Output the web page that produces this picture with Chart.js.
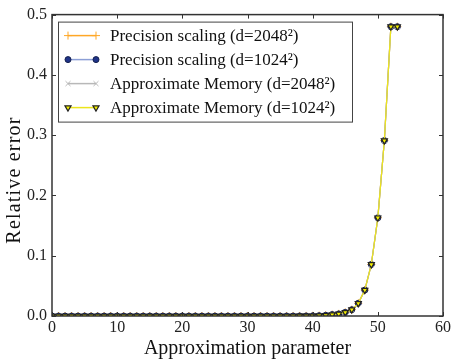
<!DOCTYPE html>
<html>
<head>
<meta charset="utf-8">
<script src="https://cdn.jsdelivr.net/npm/chart.js@4"></script>
<style>
  html, body { margin: 0; padding: 0; background: #fff; }
  #wrap { width: 453px; height: 361px; }
</style>
</head>
<body>
<div id="wrap"><canvas id="c" width="453" height="361"></canvas></div>
<script>
// approximation parameter values (x)
const params = [0,1,2,3,4,5,6,7,8,9,10,11,12,13,14,15,16,17,18,19,20,21,22,23,24,25,26,
  27,28,29,30,31,32,33,34,35,36,37,38,39,40,41,42,43,44,45,46,47,48,49,50,51,52,53];

// relative error per series
const precision2048 = [0,0,0,0,0,0,0,0,0,0,0,0,0,0,0,0,0,0,0,0,0,0,0,0,0,0,0,
  0,0,0,0,0,0,0,0,0,0.00002,0.00004,0.00008,0.00015,0.0003,0.0006,0.0012,0.0024,0.0035,0.006,0.0105,0.021,0.043,0.0855,0.163,0.291,0.48,0.48];
const precision1024 = [0,0,0,0,0,0,0,0,0,0,0,0,0,0,0,0,0,0,0,0,0,0,0,0,0,0,0,
  0,0,0,0,0,0,0,0,0,0.00002,0.00004,0.00008,0.00015,0.0003,0.0006,0.0012,0.0024,0.0035,0.006,0.0105,0.021,0.043,0.0855,0.163,0.291,0.48,0.48];
const approxMem2048 = [0,0,0,0,0,0,0,0,0,0,0,0,0,0,0,0,0,0,0,0,0,0,0,0,0,0,0,
  0,0,0,0,0,0,0,0,0,0.00002,0.00004,0.00008,0.00015,0.0003,0.0006,0.0012,0.0024,0.0035,0.006,0.0105,0.021,0.043,0.0855,0.163,0.291,0.48,0.48];
const approxMem1024 = [0,0,0,0,0,0,0,0,0,0,0,0,0,0,0,0,0,0,0,0,0,0,0,0,0,0,0,
  0,0,0,0,0,0,0,0,0,0.00002,0.00004,0.00008,0.00015,0.0003,0.0006,0.0012,0.0024,0.0035,0.006,0.0105,0.021,0.043,0.0855,0.163,0.291,0.48,0.48];

const seriesNames = ['Precision scaling (d=2048\u00B2)', 'Precision scaling (d=1024\u00B2)',
  'Approximate Memory (d=2048\u00B2)', 'Approximate Memory (d=1024\u00B2)'];
const xTicks = [0, 10, 20, 30, 40, 50, 60];
const yTicks = [0, 0.1, 0.2, 0.3, 0.4, 0.5];

const FONT = '"Liberation Serif", "DejaVu Serif", serif';
const toPts = ys => params.map((x, i) => ({ x: x, y: ys[i] }));

const datasets = [
  { label: seriesNames[0], data: toPts(precision2048), borderColor: '#ffa726', backgroundColor: '#ffa726',
    pointStyle: 'cross', pointRadius: 4, pointBorderWidth: 1, borderWidth: 1.2, order: 3 },
  { label: seriesNames[1], data: toPts(precision1024), borderColor: '#8c9fd6', backgroundColor: '#1f3388',
    pointBorderColor: '#14204f', pointStyle: 'circle', pointRadius: 3, pointBorderWidth: 1, borderWidth: 1.2, order: 2 },
  { label: seriesNames[2], data: toPts(approxMem2048), borderColor: '#b8b8b8', backgroundColor: '#b8b8b8',
    pointStyle: 'crossRot', pointRadius: 3.5, pointBorderWidth: 1, borderWidth: 1.2, order: 1 },
  { label: seriesNames[3], data: toPts(approxMem1024), borderColor: '#ece51c', backgroundColor: '#f5f000',
    pointBorderColor: '#222', pointStyle: 'triangle', pointRotation: 180, pointRadius: 3.5, pointBorderWidth: 1.2, borderWidth: 1.2, order: 0 }
];

// frame with inward ticks on all four sides, plus the y title
const framePlugin = {
  id: 'frame',
  afterDatasetsDraw(chart) {
    const { ctx, chartArea: a, scales } = chart;
    ctx.save();
    ctx.strokeStyle = '#333';
    ctx.lineWidth = 1;
    const L = 4;
    ctx.beginPath();
    xTicks.forEach(v => {
      const px = Math.round(scales.x.getPixelForValue(v)) + 0.5;
      ctx.moveTo(px, a.bottom); ctx.lineTo(px, a.bottom - L);
      ctx.moveTo(px, a.top); ctx.lineTo(px, a.top + L);
    });
    yTicks.forEach(v => {
      const py = Math.round(scales.y.getPixelForValue(v)) + 0.5;
      ctx.moveTo(a.left, py); ctx.lineTo(a.left + L, py);
      ctx.moveTo(a.right, py); ctx.lineTo(a.right - L, py);
    });
    ctx.stroke();
    ctx.lineWidth = 1.5;
    ctx.strokeRect(a.left, a.top, a.right - a.left, a.bottom - a.top);

    // y axis title, set a little below the axis centre like the original
    ctx.translate(15, 180);
    ctx.rotate(-Math.PI / 2);
    ctx.font = '20px ' + FONT;
    ctx.letterSpacing = '1.2px';
    ctx.fillStyle = '#111';
    ctx.textAlign = 'center';
    ctx.textBaseline = 'middle';
    ctx.fillText('Relative error', 0, 0);
    ctx.restore();
  }
};

// legend box drawn inside the plot area
const legendPlugin = {
  id: 'innerLegend',
  afterDraw(chart) {
    const { ctx, chartArea: a } = chart;
    const x0 = a.left + 6, y0 = a.top + 7, w = 294, h = 100, rowH = 24;
    ctx.save();
    ctx.fillStyle = '#fff';
    ctx.fillRect(x0, y0, w, h);
    ctx.strokeStyle = '#444';
    ctx.lineWidth = 1;
    ctx.strokeRect(x0 + 0.5, y0 + 0.5, w, h);
    ctx.font = '17px ' + FONT;
    ctx.textBaseline = 'middle';
    datasets.forEach((ds, i) => {
      const y = y0 + 14 + i * rowH;
      ctx.strokeStyle = ds.borderColor;
      ctx.lineWidth = 1.5;
      ctx.beginPath(); ctx.moveTo(x0 + 10, y); ctx.lineTo(x0 + 38, y); ctx.stroke();
      [x0 + 10, x0 + 38].forEach(px => {
        ctx.fillStyle = ds.backgroundColor;
        ctx.strokeStyle = ds.pointBorderColor || ds.borderColor;
        ctx.lineWidth = ds.pointBorderWidth;
        Chart.helpers.drawPoint(ctx, {
          pointStyle: ds.pointStyle, rotation: ds.pointRotation || 0,
          radius: ds.pointRadius, borderWidth: ds.pointBorderWidth
        }, px, y);
      });
      ctx.fillStyle = '#111';
      ctx.fillText(ds.label, x0 + 52, y + 1);
    });
    ctx.restore();
  }
};

new Chart(document.getElementById('c'), {
  type: 'line',
  data: { datasets: datasets },
  plugins: [framePlugin, legendPlugin],
  options: {
    responsive: false,
    animation: false,
    layout: { padding: { top: 12, right: 7, left: 0, bottom: 0 } },
    plugins: { legend: { display: false }, tooltip: { enabled: false } },
    scales: {
      x: {
        type: 'linear', min: 0, max: 60,
        afterBuildTicks: s => { s.ticks = xTicks.map(v => ({ value: v })); },
        afterFit: s => { s.height = 45; },
        grid: { display: false, drawTicks: false },
        border: { display: false },
        ticks: { color: '#222', padding: 2, font: { family: FONT, size: 16 }, maxRotation: 0 },
        title: { display: true, text: 'Approximation parameter', color: '#111',
          font: { family: FONT, size: 20 }, padding: { top: 0, bottom: 0 } }
      },
      y: {
        min: 0, max: 0.5,
        afterBuildTicks: s => { s.ticks = yTicks.map(v => ({ value: v })); },
        afterFit: s => { s.width = 52; },
        grid: { display: false, drawTicks: false },
        border: { display: false },
        ticks: { color: '#222', padding: 5, font: { family: FONT, size: 16 },
          callback: v => v.toFixed(1) },
        title: { display: false }
      }
    }
  }
});
</script>
</body>
</html>
